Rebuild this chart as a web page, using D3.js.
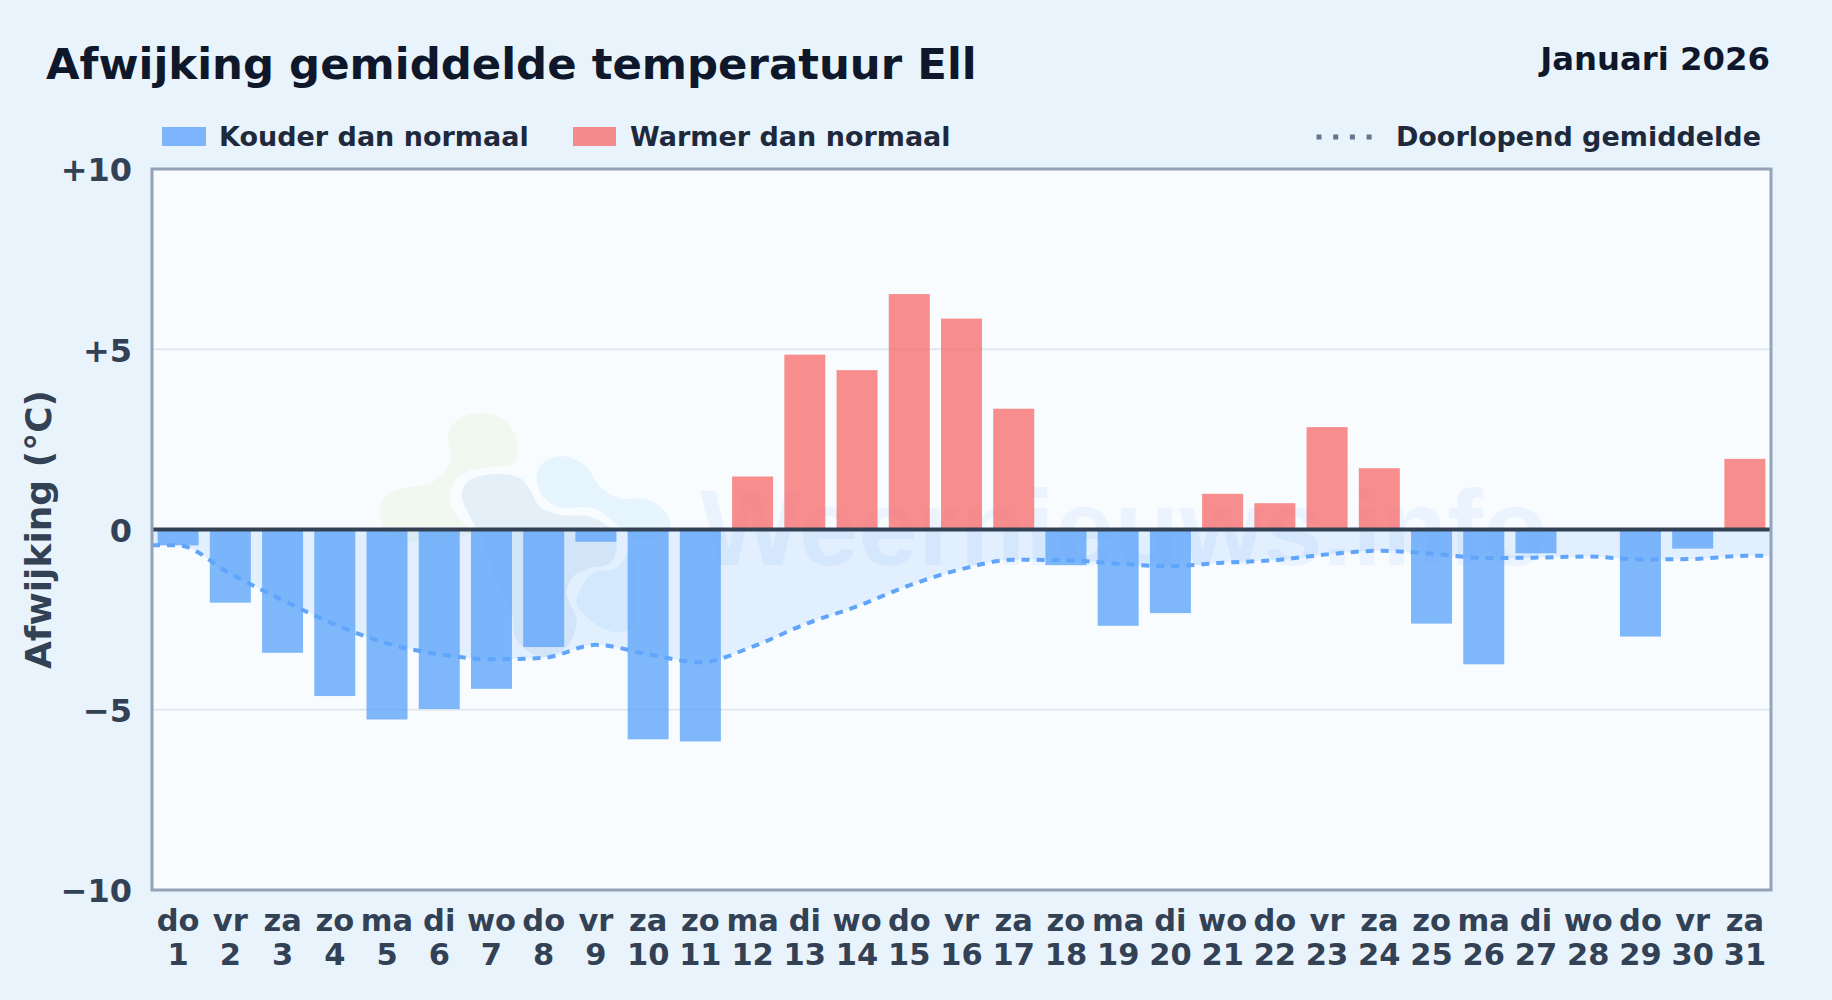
<!DOCTYPE html>
<html>
<head>
<meta charset="utf-8">
<title>Afwijking gemiddelde temperatuur Ell</title>
<script src="https://cdn.jsdelivr.net/npm/d3@7"></script>
<style>
    html, body { margin: 0; padding: 0; background: #e8f3fc; }
    svg { display: block; }
    text { font-family: "DejaVu Sans", sans-serif; font-weight: 700; }
</style>
</head>
<body>
<svg id="chart" width="1832" height="1000"></svg>
<script>
'use strict';

var weekdays = ['do', 'vr', 'za', 'zo', 'ma', 'di', 'wo', 'do', 'vr', 'za', 'zo', 'ma', 'di', 'wo', 'do', 'vr',
    'za', 'zo', 'ma', 'di', 'wo', 'do', 'vr', 'za', 'zo', 'ma', 'di', 'wo', 'do', 'vr', 'za']
var days = d3.range(1, 32)
var deviations = [-0.44, -2.03, -3.42, -4.62, -5.27, -4.98, -4.42, -3.26, -0.34, -5.82, -5.88, 1.47, 4.85, 4.42, 6.53, 5.85,
    3.35, -0.99, -2.67, -2.32, 0.99, 0.73, 2.84, 1.70, -2.61, -3.74, -0.66, 0, -2.97, -0.53, 1.96]
var runningMean = [-0.44, -1.23, -1.96, -2.63, -3.16, -3.46, -3.60, -3.56, -3.20, -3.46, -3.68, -3.25, -2.63, -2.13, -1.55, -1.10,
    -0.84, -0.85, -0.95, -1.02, -0.92, -0.85, -0.69, -0.59, -0.67, -0.79, -0.78, -0.75, -0.83, -0.82, -0.73]
var yTicks = [10, 5, 0, -5, -10]
var yTickLabels = ['+10', '+5', '0', '\u22125', '\u221210']

// watermark logo outlines
var logoYellow = [[60, 340], [75, 290], [130, 265], [220, 245], [270, 190], [265, 100], [300, 55], [370, 40], [440, 65], [472, 130],
    [460, 190], [400, 200], [320, 215], [280, 250], [270, 310], [300, 360], [340, 392], [240, 420], [90, 410]]
var logoGrey = [[305, 280], [330, 240], [410, 222], [480, 235], [510, 270], [540, 320], [600, 345], [690, 350], [750, 385], [770, 440],
    [750, 490], [690, 505], [640, 530], [620, 580], [650, 660], [620, 740], [540, 770], [470, 720], [455, 640], [400, 520], [370, 420], [330, 350]]
var logoBlue = [[530, 225], [560, 180], [620, 170], [680, 200], [720, 260], [780, 295], [860, 298], [920, 340], [930, 390], [830, 420],
    [790, 390], [700, 325], [600, 322], [550, 290]]
var logoBlueLow = [[660, 570], [700, 520], [770, 505], [810, 460], [830, 560], [820, 680], [760, 695], [690, 660], [650, 610]]

var width = 1832,
    height = 1000
var margin = { top: 169, right: 61, bottom: 110, left: 152 }
var svg = d3.select('#chart')

var x = d3.scaleBand().domain(days).range([margin.left, width - margin.right]).paddingInner(0.215).paddingOuter(0.1075)
var xLinear = d3.scaleLinear().domain([0.5, 31.5]).range([margin.left, width - margin.right])
var y = d3.scaleLinear().domain([-10, 10]).range([height - margin.bottom, margin.top])

svg.append('rect')
    .attr('width', width)
    .attr('height', height)
    .attr('fill', '#e8f3fc')
svg.append('rect')
    .attr('x', margin.left)
    .attr('y', margin.top)
    .attr('width', width - margin.left - margin.right)
    .attr('height', height - margin.top - margin.bottom)
    .attr('fill', '#f8fcff')

// watermark
var blob = d3.line().curve(d3.curveCatmullRomClosed.alpha(0.5))
var logo = svg.append('g').attr('transform', 'translate(360,400) scale(0.3333)')
logo.append('path').attr('d', blob(logoYellow)).attr('fill', 'rgba(190,220,130,0.12)')
logo.append('path').attr('d', blob(logoGrey)).attr('fill', 'rgba(80,140,190,0.11)')
logo.append('path').attr('d', blob(logoBlue)).attr('fill', 'rgba(90,180,250,0.11)')
logo.append('path').attr('d', blob(logoBlueLow)).attr('fill', 'rgba(90,180,250,0.11)')
svg.append('text')
    .attr('x', 700)
    .attr('y', 565)
    .attr('fill', 'rgba(59,130,246,0.07)')
    .style('font-family', '"Liberation Sans"')
    .style('font-size', '107px')
    .text('Weernieuws.info')

// grid
svg.append('g').selectAll('line')
    .data(yTicks.filter(function(d) { return Math.abs(d) === 5 }))
    .join('line')
    .attr('x1', margin.left)
    .attr('x2', width - margin.right)
    .attr('y1', function(d) { return y(d) })
    .attr('y2', function(d) { return y(d) })
    .attr('stroke', '#e2e8f0')
    .attr('stroke-width', 2)

// running mean
var meanPoints = [[0.5, runningMean[0]]]
    .concat(days.map(function(d, i) { return [d, runningMean[i]] }))
    .concat([[31.5, runningMean[30]]])
var area = d3.area()
    .x(function(d) { return xLinear(d[0]) })
    .y0(y(0))
    .y1(function(d) { return y(d[1]) })
    .curve(d3.curveMonotoneX)
var line = d3.line()
    .x(function(d) { return xLinear(d[0]) })
    .y(function(d) { return y(d[1]) })
    .curve(d3.curveMonotoneX)
svg.append('path')
    .attr('d', area(meanPoints))
    .attr('fill', 'rgba(96,165,250,0.15)')

// bars
svg.append('g').selectAll('rect')
    .data(days.filter(function(d, i) { return deviations[i] !== 0 }))
    .join('rect')
    .attr('x', function(d) { return x(d) })
    .attr('width', x.bandwidth())
    .attr('y', function(d) { return Math.min(y(deviations[d - 1]), y(0)) })
    .attr('height', function(d) { return Math.abs(y(deviations[d - 1]) - y(0)) })
    .attr('fill', function(d) { return deviations[d - 1] < 0 ? 'rgba(96,165,250,0.8)' : 'rgba(248,113,113,0.8)' })

svg.append('path')
    .attr('d', line(meanPoints))
    .attr('fill', 'none')
    .attr('stroke', '#60a5fa')
    .attr('stroke-width', 4)
    .attr('stroke-dasharray', '8 7')

// zero line and frame
svg.append('line')
    .attr('x1', margin.left)
    .attr('x2', width - margin.right)
    .attr('y1', y(0))
    .attr('y2', y(0))
    .attr('stroke', '#334155')
    .attr('stroke-width', 4)
svg.append('rect')
    .attr('x', margin.left)
    .attr('y', margin.top)
    .attr('width', width - margin.left - margin.right)
    .attr('height', height - margin.top - margin.bottom)
    .attr('fill', 'none')
    .attr('stroke', '#94a3b8')
    .attr('stroke-width', 3)

// axes
var yAxis = svg.append('g')
    .attr('transform', 'translate(' + margin.left + ',0)')
    .call(d3.axisLeft(y).tickValues(yTicks).tickSize(0).tickPadding(20)
        .tickFormat(function(d, i) { return yTickLabels[i] }))
yAxis.select('.domain').remove()
yAxis.selectAll('text')
    .attr('fill', '#334155')
    .attr('dy', '0.37em')
    .style('font-family', '"DejaVu Sans"')
    .style('font-size', '32px')
    .style('font-weight', 700)

var xAxis = svg.append('g')
    .attr('transform', 'translate(0,' + (height - margin.bottom) + ')')
    .call(d3.axisBottom(x).tickSize(0).tickFormat(''))
xAxis.select('.domain').remove()
xAxis.selectAll('.tick text').each(function(d) {
    var t = d3.select(this).attr('y', null).attr('dy', null)
    t.append('tspan').attr('x', 0).attr('y', 41).text(weekdays[d - 1])
    t.append('tspan').attr('x', 0).attr('y', 75).text(d)
})
xAxis.selectAll('text')
    .attr('fill', '#334155')
    .style('font-family', '"DejaVu Sans"')
    .style('font-size', '30.5px')
    .style('font-weight', 700)

svg.append('text')
    .attr('transform', 'translate(51,' + y(0) + ') rotate(-90)')
    .attr('text-anchor', 'middle')
    .attr('fill', '#334155')
    .style('font-size', '36px')
    .text('Afwijking (\u00b0C)')

// titles
svg.append('text')
    .attr('x', 46)
    .attr('y', 79)
    .attr('fill', '#0f172a')
    .style('font-size', '43.4px')
    .text('Afwijking gemiddelde temperatuur Ell')
svg.append('text')
    .attr('x', 1770)
    .attr('y', 70)
    .attr('text-anchor', 'end')
    .attr('fill', '#0f172a')
    .style('font-size', '32.3px')
    .text('Januari 2026')

// legend
var legend = svg.append('g')
legend.append('rect').attr('x', 162).attr('y', 127).attr('width', 44).attr('height', 19).attr('fill', 'rgba(96,165,250,0.8)')
legend.append('text').attr('x', 219).attr('y', 146).attr('fill', '#1e293b').style('font-size', '27px').text('Kouder dan normaal')
legend.append('rect').attr('x', 573).attr('y', 127).attr('width', 43).attr('height', 19).attr('fill', 'rgba(248,113,113,0.8)')
legend.append('text').attr('x', 630).attr('y', 146).attr('fill', '#1e293b').style('font-size', '27px').text('Warmer dan normaal')
legend.append('line').attr('x1', 1316.5).attr('x2', 1375).attr('y1', 137).attr('y2', 137)
    .attr('stroke', '#64748b').attr('stroke-width', 5).attr('stroke-dasharray', '5 11.7')
legend.append('text').attr('x', 1761).attr('y', 146).attr('text-anchor', 'end').attr('fill', '#1e293b').style('font-size', '27px').text('Doorlopend gemiddelde')
</script>
</body>
</html>
